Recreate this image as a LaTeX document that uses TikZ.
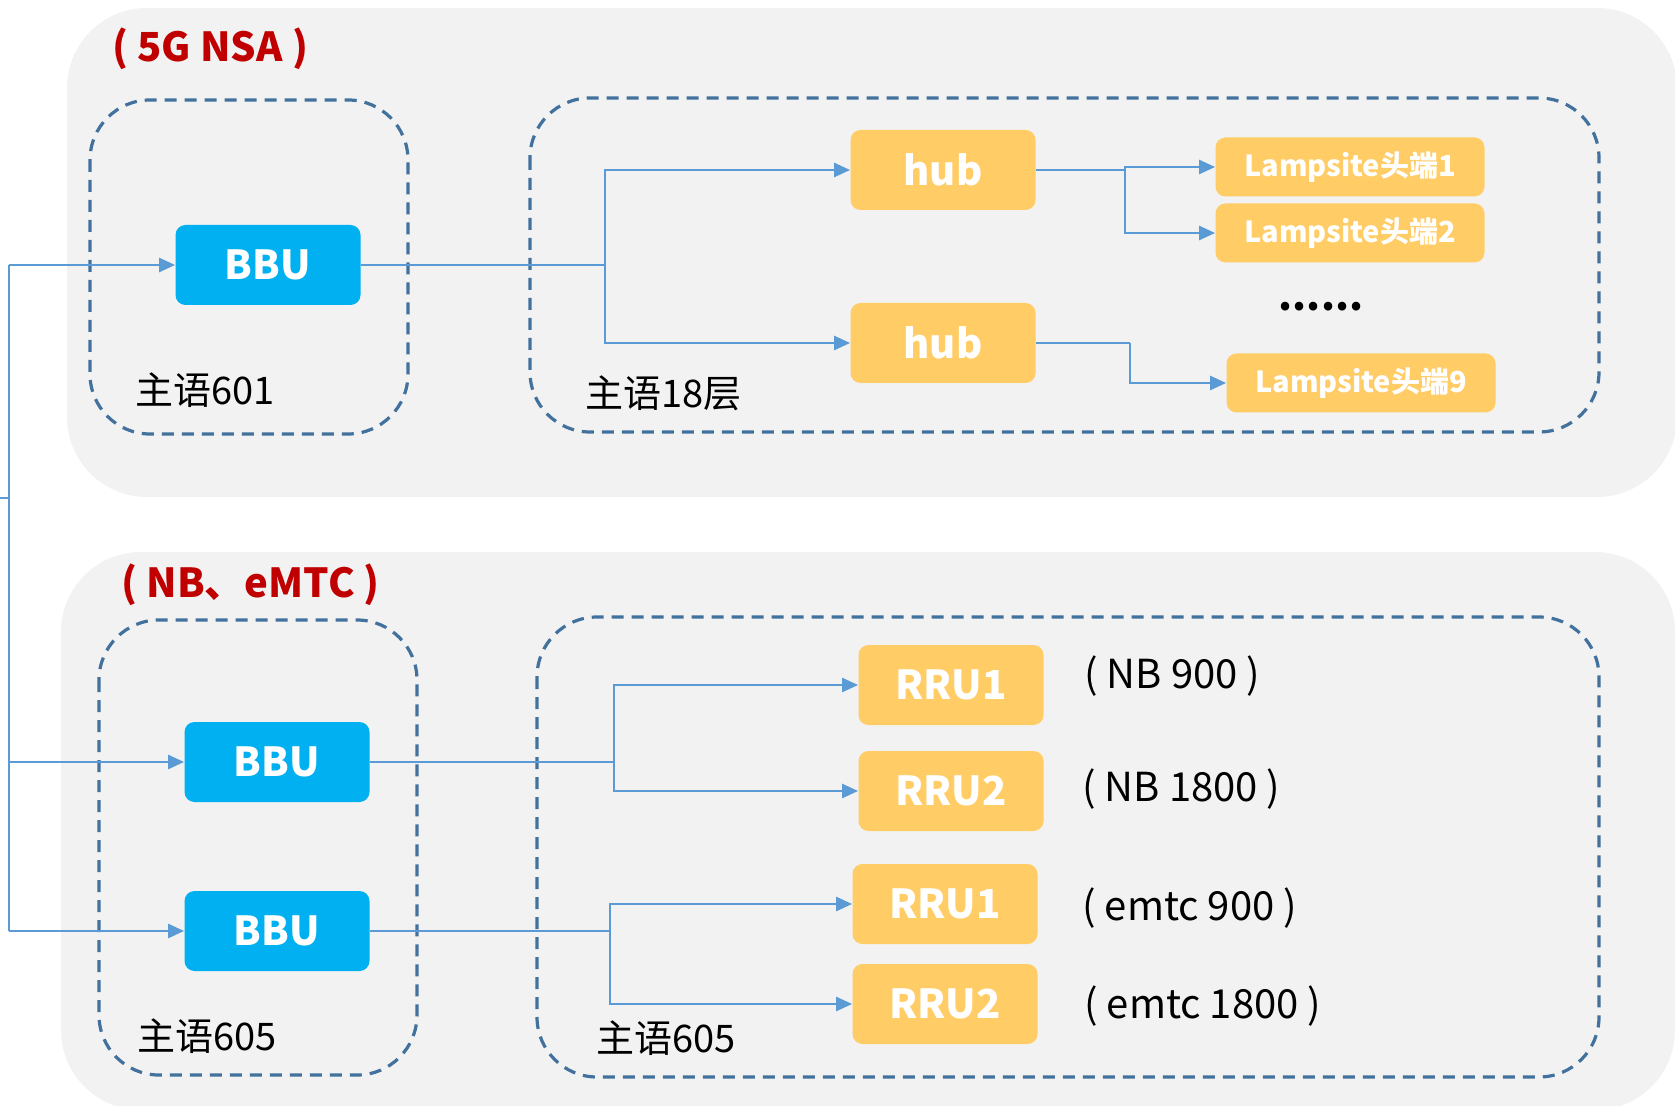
\documentclass[tikz,border=0pt]{standalone}
\usepackage{fontspec}
\setmainfont{Noto Sans CJK SC}
\usetikzlibrary{arrows.meta}
\definecolor{bbublue}{HTML}{00B0F0}
\definecolor{unitgold}{HTML}{FFCC66}
\definecolor{linkblue}{HTML}{5B9BD5}
\definecolor{dashblue}{HTML}{41719C}
\definecolor{panelgray}{HTML}{F2F2F2}
\definecolor{titlered}{HTML}{C00000}
\begin{document}
\begin{tikzpicture}[x=0.5pt,y=-0.5pt,
  bbu/.style={fill=bbublue, text=white, rounded corners=5pt, minimum width=92.5pt, minimum height=40pt, font=\bfseries\fontsize{20}{20}\selectfont},
  unit/.style={bbu, fill=unitgold},
  lamp/.style={unit, minimum width=134.5pt, minimum height=29.5pt, font=\bfseries\fontsize{14.5}{14.5}\selectfont},
  link/.style={draw=linkblue, line width=1.3pt},
  arr/.style={link, -{Triangle[length=8pt,width=7pt]}},
  site/.style={draw=dashblue, line width=1.6pt, dash pattern=on 6pt off 4pt, rounded corners=30pt},
  panel/.style={fill=panelgray, rounded corners=40pt},
  title/.style={text=titlered, inner sep=0pt, anchor=west, font=\bfseries\fontsize{20}{20}\selectfont},
  room/.style={inner sep=0pt, anchor=west, font=\fontsize{19}{19}\selectfont},
  band/.style={inner sep=0pt, anchor=west, font=\fontsize{20}{20}\selectfont}]
\useasboundingbox (0,0) rectangle (1675,1106);

% panels
\fill[panel] (67,8) rectangle (1677,497);
\fill[panel] (61,552) rectangle (1675,1110);
\node[title] (t5g) at (112,49) {( 5G NSA )};
\node[title] (tnb) at (121,585) {( NB、eMTC )};

% sites
\draw[site] (90,100) rectangle (408,434);
\draw[site] (530,98) rectangle (1599,432);
\draw[site] (99,620) rectangle (417,1075);
\draw[site] (537,617) rectangle (1599,1077);
\node[room] (r601) at (135,390) {主语601};
\node[room] (r18) at (585,393) {主语18层};
\node[room] (r605a) at (137,1036) {主语605};
\node[room] (r605b) at (596,1038) {主语605};

% 5G NSA
\node[bbu] (bbu1) at (268,265) {BBU};
\node[unit] (hub1) at (943,170) {hub};
\node[unit] (hub2) at (943,343) {hub};
\node[lamp] (lamp1) at (1350,167) {Lampsite头端1};
\node[lamp] (lamp2) at (1350,233) {Lampsite头端2};
\node[lamp] (lamp9) at (1361,383) {Lampsite头端9};
\node[font=\bfseries\fontsize{20}{20}\selectfont] (dots) at (1321,307) {......};

% NB, eMTC
\node[bbu] (bbu2) at (277,762) {BBU};
\node[bbu] (bbu3) at (277,931) {BBU};
\node[unit] (rru1) at (951,685) {RRU1};
\node[unit] (rru2) at (951,791) {RRU2};
\node[unit] (rru3) at (945,904) {RRU1};
\node[unit] (rru4) at (945,1004) {RRU2};
\node[band] (b1) at (1084,676) {( NB 900 )};
\node[band] (b2) at (1082,789) {( NB 1800 )};
\node[band] (b3) at (1082,908) {( emtc 900 )};
\node[band] (b4) at (1084,1006) {( emtc 1800 )};

% trunk
\coordinate (tin) at (0,498);
\coordinate (ttop) at (9,265);
\coordinate (tbot) at (9,931);
\draw[link] (ttop) -- (tbot);
\draw[link] (tin) -- (tin -| ttop);
\draw[arr] (ttop) -- (bbu1.west);
\draw[arr] (ttop |- bbu2) -- (bbu2.west);
\draw[arr] (tbot) -- (bbu3.west);

% branches
\coordinate (s1) at (605,265);
\draw[link] (bbu1.east) -- (s1);
\draw[arr] (s1) |- (hub1.west);
\draw[arr] (s1) |- (hub2.west);
\coordinate (s2) at (1125,170);
\draw[link] (hub1.east) -- (s2);
\draw[arr] (s2) |- (lamp1.west);
\draw[arr] (s2) |- (lamp2.west);
\coordinate (s3) at (1130,343);
\draw[link] (hub2.east) -- (s3);
\draw[arr] (s3) |- (lamp9.west);
\coordinate (s4) at (614,762);
\draw[link] (bbu2.east) -- (s4);
\draw[arr] (s4) |- (rru1.west);
\draw[arr] (s4) |- (rru2.west);
\coordinate (s5) at (610,931);
\draw[link] (bbu3.east) -- (s5);
\draw[arr] (s5) |- (rru3.west);
\draw[arr] (s5) |- (rru4.west);
\end{tikzpicture}
\end{document}
